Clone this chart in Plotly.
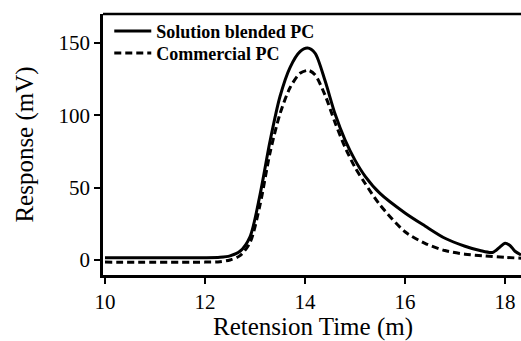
import plotly.graph_objects as go

# Data
t_solution = [10.0, 11.0, 12.0, 12.3, 12.5, 12.7, 12.9, 13.1, 13.3, 13.5, 13.7, 13.9, 14.05,
              14.2, 14.4, 14.6, 14.8, 15.0, 15.2, 15.5, 16.0, 16.4, 16.8, 17.2, 17.5, 17.75,
              17.9, 18.0, 18.1, 18.2, 18.32]
v_solution = [1.5, 1.5, 1.5, 1.8, 2.8, 6, 16, 45, 82, 113, 133, 144, 146.5,
              143, 124, 101, 83, 69, 58, 46, 32.5, 23.5, 15, 9.5, 6.5, 5.2,
              9, 11.5, 10, 6, 3.5]

t_commercial = [10.0, 12.0, 12.3, 12.5, 12.7, 12.9, 13.1, 13.3, 13.5, 13.7, 13.9, 14.07,
                14.2, 14.4, 14.6, 14.8, 15.0, 15.2, 15.5, 16.0, 16.4, 16.8, 17.2, 17.6,
                18.0, 18.32]
v_commercial = [-1.5, -1.5, -1.2, 0, 3, 12, 38, 74, 101, 119, 129, 131,
                128, 114, 95, 78, 64, 53, 38, 19.5, 11.5, 6.5, 4, 2.8,
                1.8, 1.2]

series_names = ["Solution blended PC", "Commercial PC"]
x_ticks = [10, 12, 14, 16, 18]
y_ticks = [0, 50, 100, 150]
x_title = "Retension Time (m)"
y_title = "Response (mV)"

FONT = "Liberation Serif"
LEG_FONT = dict(family=FONT, size=18, color="black", weight="bold")

fig = go.Figure()
fig.add_trace(go.Scatter(x=t_solution, y=v_solution, mode="lines", name=series_names[0],
                         legend="legend",
                         line=dict(color="black", width=3, shape="spline", smoothing=0.8)))
fig.add_trace(go.Scatter(x=t_commercial, y=v_commercial, mode="lines", name=series_names[1],
                         legend="legend2",
                         line=dict(color="black", width=3, dash="7px,4px", shape="spline", smoothing=0.8)))

fig.update_layout(
    width=521, height=341,
    margin=dict(l=103, r=0, t=14, b=66),
    paper_bgcolor="white", plot_bgcolor="white",
    font=dict(family=FONT, color="black", size=20),
    showlegend=True,
    legend=dict(x=0.015, y=1.005, xanchor="left", yanchor="top",
                bgcolor="rgba(0,0,0,0)", borderwidth=0, font=LEG_FONT, itemwidth=37),
    legend2=dict(x=0.015, y=1.005 - 22 / 261, xanchor="left", yanchor="top",
                 bgcolor="rgba(0,0,0,0)", borderwidth=0, font=LEG_FONT, itemwidth=37),
    xaxis=dict(range=[9.96, 18.32], tickvals=x_ticks, ticks="outside", ticklen=6,
               tickwidth=2, tickcolor="black", showline=True, linecolor="black",
               linewidth=2.5, showgrid=False, zeroline=False, automargin=False,
               tickfont=dict(family=FONT, size=21)),
    yaxis=dict(range=[-10.4, 170], tickvals=y_ticks, ticks="outside", ticklen=6,
               tickwidth=2, tickcolor="black", showline=True, linecolor="black",
               linewidth=2.5, showgrid=False, zeroline=False, automargin=False,
               tickfont=dict(family=FONT, size=21),
               title=dict(text=y_title, font=dict(family=FONT, size=25), standoff=18)),
)

fig.add_annotation(text=x_title, xref="paper", yref="paper", x=0.502, y=0,
                   xanchor="center", yanchor="middle", yshift=-52, showarrow=False,
                   font=dict(family=FONT, size=25, color="black"))

fig.add_shape(type="line", xref="paper", yref="paper", x0=0, x1=1, y0=1, y1=1,
              line=dict(color="black", width=2.5))

fig.write_html("out.html")
